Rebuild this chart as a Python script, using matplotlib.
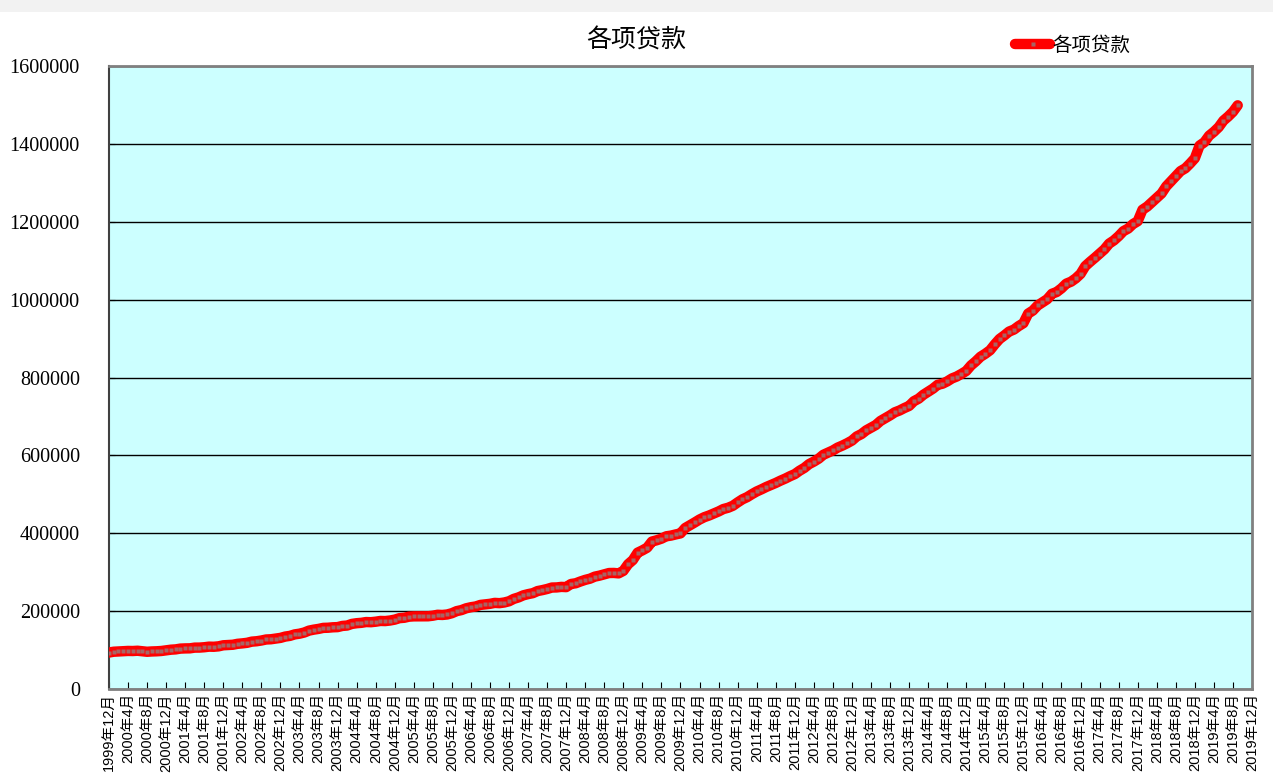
import numpy as np
import matplotlib
matplotlib.use('Agg')
import matplotlib.pyplot as plt
from matplotlib.patches import Rectangle

plt.rcParams['font.family'] = ['Liberation Sans', 'Noto Sans CJK SC']

# monthly loans, 1999-12 .. 2019-09
y1999 = [93734]
y2000 = [95800, 96500, 97300, 97800, 97600, 98300, 97100, 95700, 96500, 96900, 97700, 99371]
y2001 = [101000, 101800, 103800, 104300, 104500, 106300, 106400, 107300, 108800, 108500, 109600, 112315]
y2002 = [112900, 113700, 116100, 117200, 118700, 121700, 122700, 124600, 127200, 127800, 129500, 131294]
y2003 = [134700, 136500, 140300, 142100, 145100, 150000, 152500, 154400, 157000, 157400, 158500, 158996]
y2004 = [162000, 163000, 167200, 169000, 170000, 172000, 171600, 172900, 174800, 174500, 175900, 178198]
y2005 = [182000, 183000, 185800, 186600, 186700, 187000, 186800, 188300, 190700, 190200, 191400, 194690]
y2006 = [200000, 202700, 207300, 210100, 212000, 216000, 217400, 218800, 221200, 220500, 222200, 225347]
y2007 = [231500, 235300, 240600, 243700, 246200, 251600, 254000, 256900, 260600, 260900, 262300, 261691]
y2008 = [269700, 271600, 276200, 280300, 283400, 288600, 291200, 294600, 297900, 298100, 297000, 303395]
y2009 = [320500, 331200, 350200, 356100, 362900, 378700, 382000, 386100, 392200, 394000, 397000, 399685]
y2010 = [413600, 420600, 427800, 435300, 441300, 445600, 450900, 456000, 462200, 465500, 470600, 479196]
y2011 = [487100, 492800, 500400, 507300, 512800, 518800, 524100, 529200, 535100, 540400, 546500, 551900]
y2012 = [560600, 567800, 577600, 584000, 591500, 601600, 607000, 612700, 620000, 625200, 631200, 638000]
y2013 = [648600, 654800, 664300, 671200, 677900, 688500, 695500, 702700, 710600, 715300, 721500, 726961]
y2014 = [739100, 745600, 755700, 763500, 771300, 781200, 784000, 790000, 797600, 802500, 809300, 816770]
y2015 = [831000, 841400, 853300, 861000, 870000, 885300, 899000, 908000, 918000, 923000, 932000, 939540]
y2016 = [964100, 972000, 985000, 993000, 1001000, 1015000, 1019600, 1029000, 1041000, 1046000, 1054600, 1066040]
y2017 = [1086000, 1097000, 1107300, 1118000, 1129000, 1143800, 1152000, 1163000, 1175900, 1182500, 1194000, 1201321]
y2018 = [1230800, 1239000, 1250200, 1261100, 1272600, 1291000, 1304000, 1316800, 1330100, 1337200, 1349500, 1362967]
y2019 = [1395700, 1404200, 1421000, 1431000, 1442800, 1459600, 1470200, 1482300, 1499000]

loans = (y1999 + y2000 + y2001 + y2002 + y2003 + y2004 + y2005 + y2006 + y2007 + y2008
         + y2009 + y2010 + y2011 + y2012 + y2013 + y2014 + y2015 + y2016 + y2017 + y2018 + y2019)

# tick labels every 4 months, 1999-12 .. 2019-12
tick_labels = ['1999年12月']
for yr in range(2000, 2020):
    for m in (4, 8, 12):
        tick_labels.append('%d年%d月' % (yr, m))

yticks = [0, 200000, 400000, 600000, 800000, 1000000, 1200000, 1400000, 1600000]

fig = plt.figure(figsize=(12.73, 7.79), dpi=100)
fig.patches.append(Rectangle((0, 0.985), 1, 0.015, transform=fig.transFigure,
                             facecolor='#f2f2f2', edgecolor='none'))
ax = fig.add_axes([0.0856, 0.1155, 0.8979, 0.7998])
ax.set_facecolor('#ccffff')

x = np.arange(len(loans))
ax.plot(x, loans, color='red', lw=7.5, solid_capstyle='round', solid_joinstyle='round',
        marker='s', markersize=3.5, markerfacecolor='#a86464', markeredgecolor='none',
        label='各项贷款', zorder=3)

ax.set_xlim(0, 240)
ax.set_ylim(0, 1600000)
ax.set_yticks(yticks)
ax.set_yticklabels([str(v) for v in yticks], family='Liberation Serif', fontsize=14.5)
ax.set_xticks(np.arange(0, 241, 4))
ax.set_xticklabels(tick_labels, rotation=90, fontsize=10.5)
ax.tick_params(axis='x', direction='in', length=5, pad=3)
ax.tick_params(axis='y', direction='in', length=4, pad=21)
ax.yaxis.grid(True, color='black', lw=1)
ax.set_axisbelow(True)

for s in ('top', 'right', 'bottom'):
    ax.spines[s].set_color('#808080')
    ax.spines[s].set_linewidth(2)
ax.spines['left'].set_color('#404040')
ax.spines['left'].set_linewidth(1.5)

fig.text(0.5, 0.948, '各项贷款', ha='center', va='center', fontsize=18,
         family=['Noto Sans CJK SC'])
leg = ax.legend(loc='lower left', bbox_to_anchor=(0.781, 0.995), frameon=False,
                fontsize=14, handlelength=1.8, handletextpad=0.1, borderpad=0.2)
for t in leg.get_texts():
    t.set_family(['Noto Sans CJK SC'])

fig.savefig('out.png', dpi=100, facecolor='white')
